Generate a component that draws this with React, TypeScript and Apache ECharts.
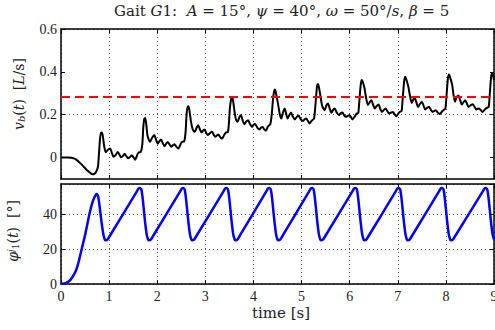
import React, { useEffect, useRef } from "react";
import * as echarts from "echarts";

// ---------- data ----------
const timeTicks = [0, 1, 2, 3, 4, 5, 6, 7, 8, 9];
const velocityTicks = [0, 0.2, 0.4, 0.6];
const angleTicks = [0, 20, 40];
const referenceVelocity = 0.283;

// body velocity v_b(t) [L/s] : [time, value]
const velocityData: [number, number][] = [
  [0, 0], [0.15, 0], [0.26, -0.003], [0.33, -0.012], [0.40, -0.026], [0.47, -0.042],
  [0.53, -0.057], [0.60, -0.07], [0.65, -0.078], [0.70, -0.075], [0.74, -0.062],
  [0.77, -0.04], [0.79, 0.02], [0.81, 0.085], [0.83, 0.115], [0.85, 0.117],
  [0.87, 0.1], [0.90, 0.05], [0.93, 0.025], [0.97, 0.035], [1.02, 0.042],
  [1.06, 0.02], [1.09, 0.004], [1.13, 0.01], [1.18, 0.026], [1.22, 0.012],
  [1.25, 0.001], [1.29, 0.008], [1.32, 0.018], [1.36, 0.006], [1.39, -0.003],
  [1.43, 0.002], [1.47, 0.011], [1.51, 0.0], [1.54, -0.01], [1.58, 0.01],
  [1.61, 0.023], [1.66, 0.027], [1.69, 0.06], [1.71, 0.14], [1.73, 0.18],
  [1.75, 0.185], [1.77, 0.16], [1.80, 0.1], [1.85, 0.073], [1.90, 0.095],
  [1.94, 0.104], [1.98, 0.08], [2.01, 0.065], [2.05, 0.078], [2.08, 0.084],
  [2.12, 0.065], [2.15, 0.053], [2.19, 0.066], [2.22, 0.073], [2.26, 0.06],
  [2.29, 0.05], [2.33, 0.058], [2.36, 0.062], [2.40, 0.05], [2.44, 0.042],
  [2.48, 0.06], [2.51, 0.073], [2.56, 0.076], [2.59, 0.12], [2.61, 0.2],
  [2.63, 0.235], [2.65, 0.24], [2.67, 0.22], [2.70, 0.17], [2.74, 0.13],
  [2.78, 0.12], [2.82, 0.14], [2.85, 0.151], [2.89, 0.13], [2.92, 0.118],
  [2.95, 0.125], [2.98, 0.131], [3.02, 0.115], [3.05, 0.105], [3.10, 0.115],
  [3.14, 0.12], [3.18, 0.104], [3.21, 0.097], [3.24, 0.103], [3.27, 0.108],
  [3.31, 0.095], [3.35, 0.089], [3.39, 0.105], [3.43, 0.117], [3.47, 0.12],
  [3.49, 0.16], [3.51, 0.23], [3.54, 0.277], [3.56, 0.283], [3.58, 0.26],
  [3.61, 0.21], [3.64, 0.175], [3.67, 0.167], [3.71, 0.19], [3.74, 0.198],
  [3.78, 0.17], [3.81, 0.156], [3.85, 0.168], [3.89, 0.174], [3.93, 0.155],
  [3.97, 0.143], [4.00, 0.152], [4.03, 0.158], [4.08, 0.14], [4.125, 0.131],
  [4.16, 0.14], [4.19, 0.143], [4.23, 0.13], [4.26, 0.125], [4.30, 0.145],
  [4.35, 0.156], [4.38, 0.2], [4.41, 0.28], [4.44, 0.318], [4.46, 0.31],
  [4.49, 0.275], [4.51, 0.252], [4.55, 0.2], [4.58, 0.182], [4.62, 0.215],
  [4.65, 0.229], [4.68, 0.205], [4.71, 0.182], [4.75, 0.2], [4.78, 0.21],
  [4.82, 0.19], [4.86, 0.178], [4.90, 0.19], [4.94, 0.196], [4.98, 0.18],
  [5.03, 0.171], [5.07, 0.18], [5.10, 0.182], [5.14, 0.168], [5.17, 0.159],
  [5.21, 0.172], [5.26, 0.182], [5.29, 0.25], [5.32, 0.33], [5.34, 0.343],
  [5.36, 0.33], [5.39, 0.29], [5.43, 0.24], [5.48, 0.221], [5.52, 0.245],
  [5.55, 0.252], [5.59, 0.225], [5.62, 0.209], [5.66, 0.224], [5.69, 0.229],
  [5.73, 0.21], [5.78, 0.198], [5.81, 0.207], [5.85, 0.21], [5.89, 0.195],
  [5.93, 0.19], [5.96, 0.195], [6.0, 0.198], [6.03, 0.188], [6.06, 0.178],
  [6.10, 0.19], [6.15, 0.206], [6.18, 0.209], [6.20, 0.26], [6.23, 0.34],
  [6.25, 0.362], [6.27, 0.355], [6.31, 0.322], [6.34, 0.28], [6.38, 0.245],
  [6.42, 0.26], [6.45, 0.268], [6.49, 0.245], [6.52, 0.229], [6.56, 0.24],
  [6.60, 0.248], [6.64, 0.225], [6.67, 0.213], [6.71, 0.222], [6.75, 0.229],
  [6.79, 0.214], [6.82, 0.206], [6.86, 0.21], [6.90, 0.213], [6.94, 0.2],
  [6.97, 0.193], [7.01, 0.205], [7.04, 0.213], [7.08, 0.218], [7.10, 0.27],
  [7.13, 0.35], [7.15, 0.377], [7.17, 0.37], [7.22, 0.33], [7.26, 0.28],
  [7.29, 0.255], [7.32, 0.27], [7.35, 0.279], [7.39, 0.255], [7.42, 0.236],
  [7.46, 0.25], [7.50, 0.26], [7.54, 0.24], [7.57, 0.224], [7.61, 0.232],
  [7.65, 0.237], [7.69, 0.222], [7.72, 0.213], [7.76, 0.218], [7.79, 0.221],
  [7.83, 0.21], [7.875, 0.203], [7.92, 0.215], [7.965, 0.224], [7.99, 0.229],
  [8.01, 0.28], [8.04, 0.365], [8.06, 0.388], [8.08, 0.38], [8.13, 0.34],
  [8.16, 0.29], [8.19, 0.26], [8.22, 0.28], [8.26, 0.29], [8.30, 0.265],
  [8.33, 0.248], [8.37, 0.26], [8.40, 0.268], [8.44, 0.25], [8.47, 0.236],
  [8.52, 0.245], [8.56, 0.249], [8.60, 0.235], [8.63, 0.224], [8.66, 0.228],
  [8.69, 0.229], [8.73, 0.22], [8.76, 0.213], [8.81, 0.225], [8.85, 0.232],
  [8.89, 0.237], [8.91, 0.29], [8.94, 0.375], [8.96, 0.396], [8.98, 0.385],
  [9.0, 0.362],
];

// joint angle phi_1^j(t) [deg] : [time, value]
const angleData: [number, number][] = [
  [0, 0], [0.1, 0.5], [0.2, 2.5], [0.3, 7], [0.36, 12], [0.43, 20], [0.5, 28],
  [0.59, 40], [0.65, 46.5], [0.7, 50], [0.74, 51.5], [0.77, 50.5], [0.8, 45],
  [0.84, 36], [0.88, 28.5], [0.91, 25.5], [0.93, 25],
  [0.97, 25.6], [1.02, 27.8], [1.58, 53.2], [1.61, 54.6], [1.64, 55], [1.67, 54.2],
  [1.70, 48.5], [1.74, 37.5], [1.78, 28.5], [1.81, 25.5], [1.83, 25],
  [1.87, 25.6], [1.92, 27.8], [2.48, 53.2], [2.51, 54.6], [2.54, 55], [2.57, 54.2],
  [2.60, 48.5], [2.64, 37.5], [2.68, 28.5], [2.71, 25.5], [2.73, 25],
  [2.77, 25.6], [2.82, 27.8], [3.38, 53.2], [3.41, 54.6], [3.44, 55], [3.47, 54.2],
  [3.50, 48.5], [3.54, 37.5], [3.58, 28.5], [3.61, 25.5], [3.63, 25],
  [3.67, 25.6], [3.72, 27.8], [4.27, 53.2], [4.30, 54.6], [4.33, 55], [4.36, 54.2],
  [4.39, 48.5], [4.43, 37.5], [4.47, 28.5], [4.50, 25.5], [4.52, 25],
  [4.56, 25.6], [4.61, 27.8], [5.16, 53.2], [5.19, 54.6], [5.22, 55], [5.25, 54.2],
  [5.28, 48.5], [5.32, 37.5], [5.36, 28.5], [5.39, 25.5], [5.41, 25],
  [5.45, 25.6], [5.50, 27.8], [6.06, 53.2], [6.09, 54.6], [6.12, 55], [6.15, 54.2],
  [6.18, 48.5], [6.22, 37.5], [6.26, 28.5], [6.29, 25.5], [6.31, 25],
  [6.35, 25.6], [6.40, 27.8], [6.96, 53.2], [6.99, 54.6], [7.02, 55], [7.05, 54.2],
  [7.08, 48.5], [7.12, 37.5], [7.16, 28.5], [7.19, 25.5], [7.21, 25],
  [7.25, 25.6], [7.30, 27.8], [7.86, 53.2], [7.89, 54.6], [7.92, 55], [7.95, 54.2],
  [7.98, 48.5], [8.02, 37.5], [8.06, 28.5], [8.09, 25.5], [8.11, 25],
  [8.15, 25.6], [8.20, 27.8], [8.77, 53.2], [8.80, 54.6], [8.83, 55], [8.86, 54.2],
  [8.89, 48.5], [8.93, 37.5], [8.97, 28.5], [9.0, 25.5],
];

const SERIF = "'Liberation Serif', 'DejaVu Serif', serif";
const WIDE_SERIF = "'DejaVu Serif', 'Liberation Serif', serif";

export default function App() {
  const ref = useRef<HTMLDivElement>(null);

  useEffect(() => {
    const chart = echarts.init(ref.current!, null, { renderer: "svg" });

    const grid0 = { left: 61, right: 1, top: 29, height: 150, outerBoundsMode: "none" };
    const grid1 = { left: 61, right: 1, top: 184, height: 100, outerBoundsMode: "none" };

    const dotColor = "#555";
    const dotted = { type: [1, 3] as number[], color: dotColor, width: 1 };
    const line = { lineStyle: { color: "#000", width: 1.5 } };
    const tickIn = { inside: true, length: 4, lineStyle: { color: "#000", width: 1 } };
    const labelFont = { fontFamily: SERIF, fontSize: 14, color: "#222" };

    const xBase = (gridIndex: number, position: "bottom" | "top", labels: boolean, split: boolean) => ({
      type: "value",
      gridIndex,
      position,
      min: timeTicks[0],
      max: timeTicks[timeTicks.length - 1],
      interval: 1,
      axisLine: { show: true, onZero: false, ...line },
      axisTick: { show: true, ...tickIn },
      axisLabel: { show: labels, margin: 5, ...labelFont },
      splitLine: { show: split, lineStyle: dotted },
    });

    const isVelTick = (v: number) => velocityTicks.some((t) => Math.abs(t - v) < 1e-6);
    const fmtVel = (v: number) => {
      if (!isVelTick(v)) return "";
      if (Math.abs(v) < 1e-9) return "0";
      return (Math.round(v * 10) / 10).toString();
    };

    // step 0.1 from -0.1 so that min is a multiple of the interval;
    // only every other step (0, 0.2, 0.4, 0.6) is labelled / gridded
    const yVel = (position: "left" | "right", labels: boolean, split: boolean) => ({
      type: "value",
      gridIndex: 0,
      position,
      min: -0.1,
      max: velocityTicks[velocityTicks.length - 1],
      interval: 0.1,
      axisLine: { show: true, onZero: false, ...line },
      axisTick: { show: true, customValues: velocityTicks, ...tickIn },
      axisLabel: { show: labels, margin: 4, formatter: fmtVel, customValues: velocityTicks, ...labelFont },
      splitLine: {
        show: split,
        lineStyle: { ...dotted, color: ["rgba(0,0,0,0)", dotColor] },
      },
    });

    const yAng = (position: "left" | "right", labels: boolean, split: boolean) => ({
      type: "value",
      gridIndex: 1,
      position,
      min: angleTicks[0],
      max: 57.3,
      interval: 20,
      axisLine: { show: true, onZero: false, ...line },
      axisTick: { show: true, ...tickIn },
      axisLabel: { show: labels, margin: 4, showMaxLabel: false, ...labelFont },
      splitLine: { show: split, lineStyle: dotted },
    });

    const option: any = {
      animation: false,
      backgroundColor: "#fff",
      grid: [grid0, grid1],
      xAxis: [
        xBase(0, "bottom", false, true),
        xBase(0, "top", false, false),
        xBase(1, "bottom", true, true),
        xBase(1, "top", false, false),
      ],
      yAxis: [
        yVel("left", true, true),
        yVel("right", false, false),
        yAng("left", true, true),
        yAng("right", false, false),
      ],
      series: [
        {
          type: "line",
          xAxisIndex: 0,
          yAxisIndex: 0,
          data: velocityData,
          showSymbol: false,
          smooth: 0.2,
          lineStyle: { color: "#000", width: 2 },
          z: 3,
        },
        {
          type: "line",
          xAxisIndex: 0,
          yAxisIndex: 0,
          data: [
            [timeTicks[0], referenceVelocity],
            [timeTicks[timeTicks.length - 1], referenceVelocity],
          ],
          showSymbol: false,
          lineStyle: { color: "#ff0000", width: 2, type: [9, 5] },
          z: 4,
        },
        {
          type: "line",
          xAxisIndex: 2,
          yAxisIndex: 2,
          data: angleData,
          showSymbol: false,
          smooth: 0.2,
          lineStyle: { color: "#0000ff", width: 2.5 },
          z: 3,
        },
      ],
      graphic: [
        {
          type: "text",
          left: 114,
          top: 3,
          style: {
            text:
              "{r|Gait }{i|G}{r|1:  }{i|A}{r| = 15°, }{i|ψ}{r| = 40°, }{i|ω}{r| = 50°/}{i|s}{r|, }{i|β}{r| = 5}",
            rich: {
              r: { fontFamily: WIDE_SERIF, fontSize: 15, fill: "#222" },
              i: { fontFamily: WIDE_SERIF, fontSize: 15, fontStyle: "italic", fill: "#222" },
            },
          },
        },
        {
          type: "text",
          x: 19,
          y: 94,
          rotation: Math.PI / 2,
          style: {
            text: "{i|v}{s|b}{r|(}{i|t}{r|)  [}{i|L}{r|/s]}",
            align: "center",
            verticalAlign: "middle",
            rich: {
              r: { fontFamily: WIDE_SERIF, fontSize: 14, fill: "#222" },
              i: { fontFamily: WIDE_SERIF, fontSize: 14, fontStyle: "italic", fill: "#222" },
              s: { fontFamily: WIDE_SERIF, fontSize: 10, fontStyle: "italic", fill: "#222", verticalAlign: "bottom" },
            },
          },
        },
        {
          type: "text",
          x: 13,
          y: 231,
          rotation: Math.PI / 2,
          style: {
            text: "{i|φ}{p|j}{s|1}{r|(}{i|t}{r|)  [°]}",
            align: "center",
            verticalAlign: "middle",
            rich: {
              r: { fontFamily: WIDE_SERIF, fontSize: 14, fill: "#222" },
              i: { fontFamily: WIDE_SERIF, fontSize: 14, fontStyle: "italic", fill: "#222" },
              s: { fontFamily: WIDE_SERIF, fontSize: 9, fill: "#222", verticalAlign: "bottom" },
              p: { fontFamily: WIDE_SERIF, fontSize: 9, fontStyle: "italic", fill: "#222", verticalAlign: "top" },
            },
          },
        },
        {
          type: "text",
          x: 281,
          y: 313,
          style: {
            text: "time [s]",
            align: "center",
            verticalAlign: "middle",
            fontFamily: WIDE_SERIF,
            fontSize: 15,
            fill: "#222",
          },
        },
      ],
    };

    chart.setOption(option);
    return () => chart.dispose();
  }, []);

  return (
    <div
      ref={ref}
      style={{ position: "fixed", left: 0, top: 0, width: 495, height: 330 }}
    />
  );
}
